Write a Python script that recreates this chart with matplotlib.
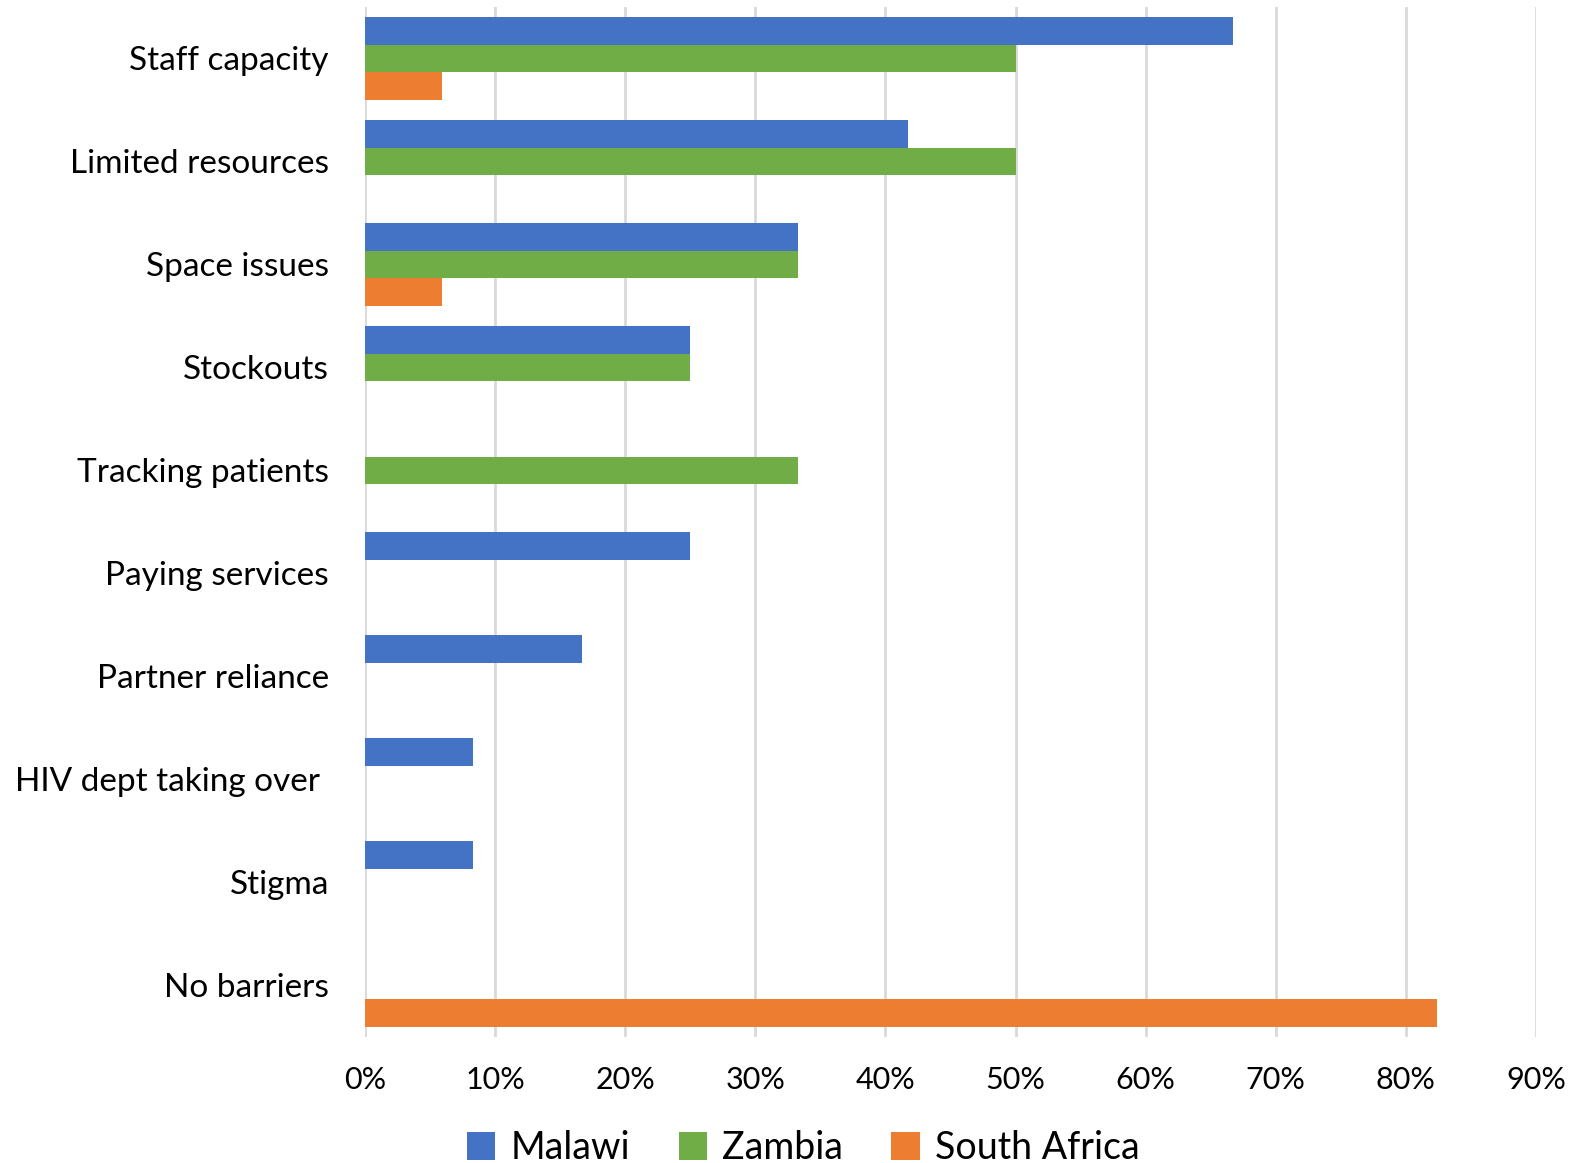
import matplotlib.pyplot as plt
import numpy as np
from matplotlib.ticker import PercentFormatter

plt.rcParams['font.family'] = ['Lato', 'DejaVu Sans']

# Barriers reported, share of facilities per country
barriers = ['Staff capacity', 'Limited resources', 'Space issues', 'Stockouts',
            'Tracking patients', 'Paying services', 'Partner reliance',
            'HIV dept taking over ', 'Stigma', 'No barriers']
malawi = [66.7, 41.7, 33.3, 25.0, 0, 25.0, 16.7, 8.3, 8.3, 0]
zambia = [50.0, 50.0, 33.3, 25.0, 33.3, 0, 0, 0, 0, 0]
south_africa = [5.9, 0, 5.9, 0, 0, 0, 0, 0, 0, 82.4]

series = [('Malawi', malawi, '#4472C4'),
          ('Zambia', zambia, '#70AD47'),
          ('South Africa', south_africa, '#ED7D31')]

fig = plt.figure(figsize=(15.75, 11.63), dpi=100)
ax = fig.add_axes([365 / 1575, 1 - 1037 / 1163, (1536 - 365) / 1575, (1037 - 7) / 1163])

y = np.arange(len(barriers))
h = 0.268
for i, (name, vals, col) in enumerate(series):
    ax.barh(y + (i - 1) * h, vals, height=h, color=col, label=name, zorder=3)

ax.set_xlim(0, 90)
ax.set_ylim(len(barriers) - 0.5, -0.5)
ax.set_xticks(np.arange(0, 91, 10))
ax.xaxis.set_major_formatter(PercentFormatter(decimals=0))
ax.set_yticks(y)
ax.set_yticklabels(barriers)
ax.grid(axis='x', color='#D9D9D9', linewidth=2, zorder=0)
for s in ax.spines.values():
    s.set_visible(False)
ax.tick_params(axis='x', length=0, pad=21, labelsize=22)
ax.tick_params(axis='y', length=0, pad=26, labelsize=24)

fig.legend(loc='center', bbox_to_anchor=(0.51, 0.013), ncol=3, frameon=False,
           fontsize=27, handlelength=0.75, handleheight=0.75, handletextpad=0.4,
           columnspacing=1.3, borderpad=0)

plt.savefig('out.png', dpi=100)
